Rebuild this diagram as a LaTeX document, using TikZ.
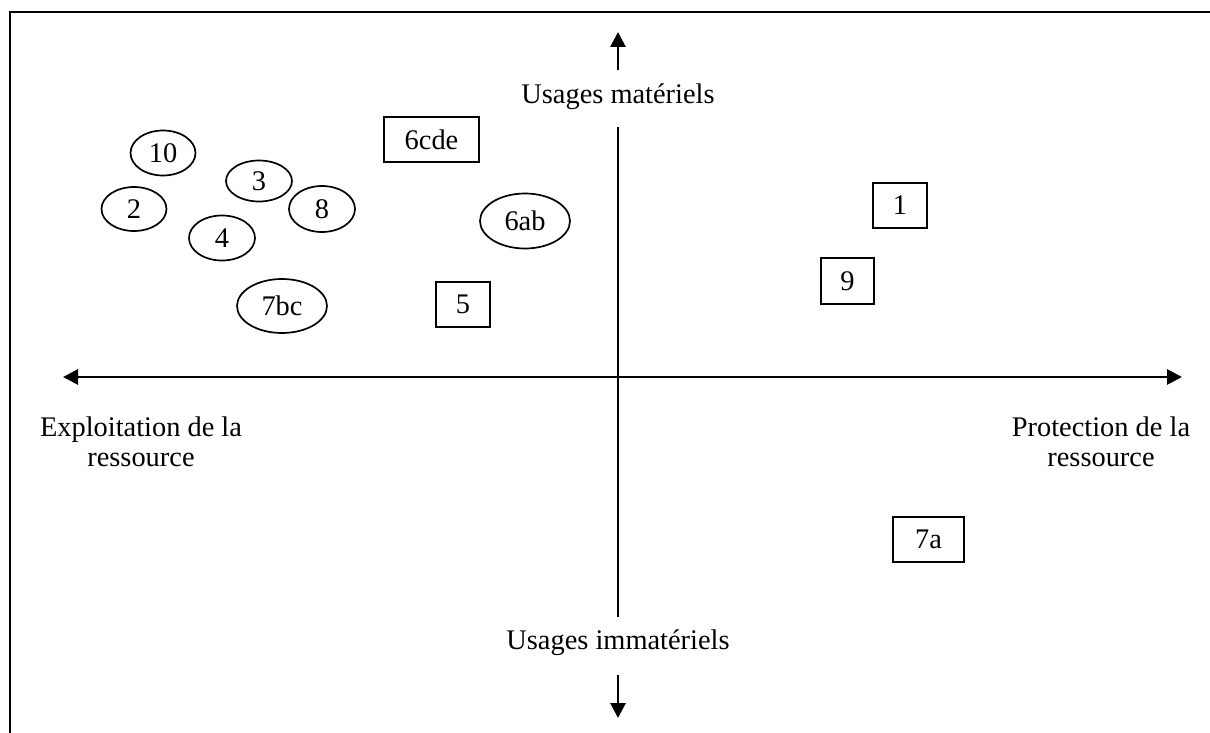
\documentclass[tikz,border=0pt]{standalone}
\usepackage{fontspec}
\setmainfont{Liberation Serif}
\usetikzlibrary{arrows.meta,shapes.geometric}
\begin{document}
\begin{tikzpicture}[x=0.5pt,y=-0.5pt,
  every node/.style={font=\fontsize{14.2pt}{15pt}\selectfont},
  ell/.style={draw,ellipse,line width=0.85pt,inner sep=0pt},
  box/.style={draw,rectangle,line width=0.85pt,inner sep=0pt},
  axis/.style={line width=1.4pt,-{Triangle[length=7.5pt,width=7.5pt]}},
  lbl/.style={align=center,inner sep=0pt}]
\useasboundingbox (0,0) rectangle (1210,733);
% frame
\draw[line width=1.2pt] (10,733) -- (10,12) -- (1210,12);
% axes
\coordinate (xl) at (63,377);
\coordinate (xr) at (1182,377);
\coordinate (xo) at (618,377);
\coordinate (vt) at (618,127);
\coordinate (vb) at (618,617);
\coordinate (ta) at (618,70);
\coordinate (tt) at (618,32);
\coordinate (ba) at (618,675);
\coordinate (bt) at (618,718);
\draw[axis] (xo) -- (xl);
\draw[axis] (xo) -- (xr);
\draw[line width=1.4pt] (vt) -- (vb);
\draw[axis] (ta) -- (tt);
\draw[axis] (ba) -- (bt);
% labels
\node[lbl] (um) at (618,97) {Usages matériels};
\node[lbl] (ui) at (618,643) {Usages immatériels};
\node[lbl] (ex) at (141,442) {Exploitation de la\\ressource};
\node[lbl] (pr) at (1101,442) {Protection de la\\ressource};
% ellipses
\node[ell,minimum width=65pt/2,minimum height=45pt/2] (n10) at (163,153) {10};
\node[ell,minimum width=66pt/2,minimum height=41pt/2] (n3) at (259,181) {3};
\node[ell,minimum width=65pt/2,minimum height=44pt/2] (n2) at (134,209) {2};
\node[ell,minimum width=66pt/2,minimum height=46pt/2] (n8) at (322,209) {8};
\node[ell,minimum width=66pt/2,minimum height=45pt/2] (n4) at (222,238) {4};
\node[ell,minimum width=90pt/2,minimum height=54pt/2] (n7bc) at (282,306) {7bc};
\node[ell,minimum width=90pt/2,minimum height=55pt/2] (n6ab) at (525,221) {6ab};
% boxes
\node[box,minimum width=95pt/2,minimum height=45pt/2] (n6cde) at (431.5,139.5) {6cde};
\node[box,minimum width=54pt/2,minimum height=45pt/2] (n5) at (463,304.5) {5};
\node[box,minimum width=54pt/2,minimum height=45pt/2] (n1) at (900,205.5) {1};
\node[box,minimum width=53pt/2,minimum height=46pt/2] (n9) at (847.5,281) {9};
\node[box,minimum width=71pt/2,minimum height=45pt/2] (n7a) at (928.5,539.5) {7a};
\end{tikzpicture}
\end{document}
